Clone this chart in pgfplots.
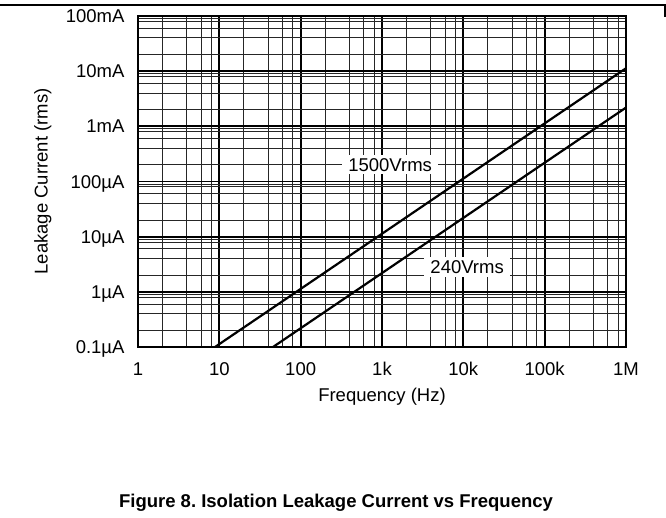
\documentclass[border=0pt]{standalone}
\usepackage{fontspec}
\setmainfont{Liberation Sans}
\usepackage{pgfplots}
\pgfplotsset{compat=1.18}
\frenchspacing
\begin{document}
\begin{tikzpicture}[font=\fontsize{18.5bp}{22bp}\selectfont]
\path[use as bounding box] (0,0) rectangle (666bp,518bp);
\draw[line width=1.3bp] (0,513bp) -- (665bp,513bp) -- (665bp,501bp);
\begin{axis}[
  at={(138bp,171bp)}, anchor=south west,
  scale only axis, width=488bp, height=331bp,
  xmode=log, ymode=log,
  xmin=1, xmax=1e6, ymin=1e-7, ymax=1e-1,
  xtick={1,10,100,1000,10000,100000,1000000},
  xticklabels={1,10,100,1k,10k,100k,1M},
  ytick={1e-7,1e-6,1e-5,1e-4,1e-3,1e-2,1e-1},
  yticklabels={0.1µA,1µA,10µA,100µA,1mA,10mA,100mA},
  minor xtick={2,4,6,8,20,40,60,80,200,400,600,800,2000,4000,6000,8000,20000,40000,60000,80000,200000,400000,600000,800000},
  minor ytick={2e-7,4e-7,6e-7,8e-7,9e-7,2e-6,4e-6,6e-6,8e-6,9e-6,2e-5,4e-5,6e-5,8e-5,9e-5,2e-4,4e-4,6e-4,8e-4,9e-4,2e-3,4e-3,6e-3,8e-3,9e-3,2e-2,4e-2,6e-2,8e-2,9e-2},
  major tick length=0pt, minor tick length=0pt,
  grid=both,
  major grid style={black, line width=1.8bp},
  minor grid style={black!85, line width=1bp},
  axis line style={line width=2.4bp},
  xticklabel style={anchor=north, text height=13bp, text depth=0bp, yshift=-12bp},
  yticklabel style={anchor=east, text height=13bp, text depth=0bp, xshift=-10bp},
  xlabel={Frequency (Hz)},
  ylabel={Leakage Current (rms)},
  xlabel style={at={(axis description cs:0.5,-0.151)}, anchor=center},
  ylabel style={at={(axis description cs:-0.195,0.5)}, anchor=center},
  clip=true,
]
\addplot[black, line width=2.2bp] coordinates {(8.85,1e-7) (1e6,1.13e-2)};
\addplot[black, line width=2.2bp] coordinates {(45.7,1e-7) (1e6,2.19e-3)};
\node[fill=white, inner xsep=6bp, inner ysep=3bp] at (axis cs:1259,2.0e-4) {1500Vrms};
\node[fill=white, inner xsep=6bp, inner ysep=3bp] at (axis cs:11140,2.82e-6) {240Vrms};
\end{axis}
\node[font=\fontsize{18.5bp}{22bp}\selectfont\bfseries] at (336bp,15bp) {Figure 8. Isolation Leakage Current vs Frequency};
\end{tikzpicture}
\end{document}
